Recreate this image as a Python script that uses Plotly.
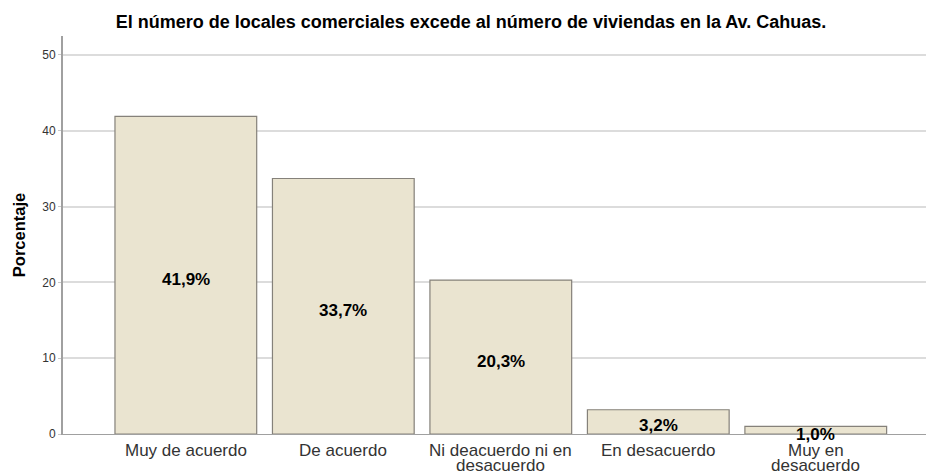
import plotly.graph_objects as go

# --- Data ---
categorias = ["Muy de acuerdo", "De acuerdo", "Ni deacuerdo ni en<br>desacuerdo",
              "En desacuerdo", "Muy en<br>desacuerdo"]
porcentajes = [41.9, 33.7, 20.3, 3.2, 1.0]
etiquetas = ["41,9%", "33,7%", "20,3%", "3,2%", "1,0%"]
ticks_y = [0, 10, 20, 30, 40, 50]

FONT = "Liberation Sans, Arial, sans-serif"

fig = go.Figure()

fig.add_trace(go.Bar(
    x=categorias,
    y=porcentajes,
    marker=dict(color="#EAE4D0", line=dict(color="#85817a", width=1.2)),
    hoverinfo="skip",
    showlegend=False,
))

# value labels, roughly centred in each bar
for cat, v, lab in zip(categorias, porcentajes, etiquetas):
    fig.add_annotation(
        x=cat, y=v / 2, xref="x", yref="y",
        text=lab, showarrow=False, yanchor="middle", yshift=-4,
        font=dict(family=FONT, size=17, color="black", weight="bold"),
    )

# category labels under the axis (tight line spacing like the original)
for cat in categorias:
    for i, linea in enumerate(cat.split("<br>")):
        fig.add_annotation(
            x=cat, y=0, xref="x", yref="y",
            text=linea, showarrow=False,
            yanchor="middle", yshift=-16 - 15 * i,
            font=dict(family=FONT, size=17, color="#333333"),
        )

fig.update_layout(
    width=928, height=476,
    margin=dict(l=63, r=2, t=36, b=42),
    plot_bgcolor="white", paper_bgcolor="white",
    bargap=0.1,
    font=dict(family=FONT, color="black"),
    title=dict(
        text="El número de locales comerciales excede al número de viviendas en la Av. Cahuas.",
        xref="container", x=471 / 928, xanchor="center",
        yref="container", y=1 - 22 / 476, yanchor="middle",
        font=dict(family=FONT, size=18, color="black", weight="bold"),
    ),
)

fig.update_xaxes(
    range=[-0.78, 4.70],
    showgrid=False,
    showline=True, linecolor="#a0a0a0", linewidth=1,
    ticks="", showticklabels=False,
    automargin=False,
)

fig.update_yaxes(
    range=[0, 52.5],
    tickvals=ticks_y,
    showgrid=True, gridcolor="#dcdcdc", gridwidth=1.5,
    showline=True, linecolor="#a0a0a0", linewidth=2,
    ticks="outside", ticklen=3, tickcolor="#c8c8c8",
    tickfont=dict(size=12, color="#333333"),
    title=dict(text="Porcentaje", font=dict(size=16.5, color="black", weight="bold"), standoff=12),
    zeroline=False,
    automargin=False,
)

# drop the default page margin so the 928x476 figure fills the window
fig.write_html("out.html", config={"displayModeBar": False},
               post_script="document.body.style.margin='0';")
